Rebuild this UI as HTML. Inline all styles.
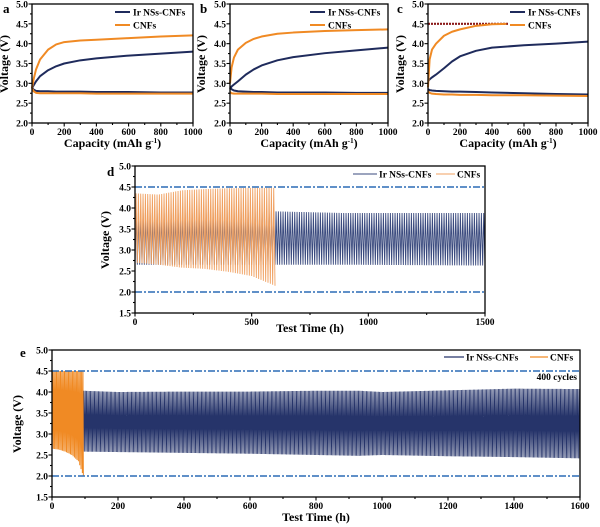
<!DOCTYPE html>
<html><head><meta charset="utf-8">
<style>
html,body{margin:0;padding:0;background:#fff;}
svg{display:block;font-family:"Liberation Serif",serif;font-weight:bold;}
</style></head>
<body>
<svg id="fig" width="600" height="527" viewBox="0 0 600 527" xmlns="http://www.w3.org/2000/svg"></svg>
<script>
// ---------- Data: panels a-c (capacity vs voltage) ----------
const capacity = [0,10,25,50,100,150,200,300,400,600,800,1000];
const a_ir_charge = [2.88,2.95,3.05,3.18,3.33,3.43,3.5,3.58,3.63,3.7,3.75,3.8];
const a_cnf_charge = [2.88,3.1,3.35,3.6,3.85,3.98,4.04,4.08,4.1,4.14,4.18,4.21];
const a_ir_discharge = [2.9,2.84,2.81,2.8,2.8,2.79,2.79,2.79,2.78,2.78,2.77,2.77];
const a_cnf_discharge = [2.88,2.8,2.76,2.75,2.75,2.75,2.75,2.75,2.74,2.74,2.74,2.74];
const b_ir_charge = [2.85,2.92,2.97,3.05,3.22,3.35,3.45,3.58,3.66,3.76,3.83,3.9];
const b_cnf_charge = [3.0,3.4,3.65,3.85,4.02,4.12,4.18,4.25,4.28,4.32,4.34,4.36];
const b_ir_discharge = [2.9,2.85,2.82,2.8,2.79,2.78,2.78,2.77,2.77,2.77,2.76,2.76];
const b_cnf_discharge = [2.78,2.75,2.74,2.74,2.74,2.74,2.74,2.73,2.73,2.73,2.73,2.73];
const c_ir_charge = [3.05,3.1,3.15,3.22,3.38,3.55,3.68,3.82,3.9,3.96,4.0,4.05];
const c_cnf_capacity = [0,10,25,50,100,150,200,300,400,490];
const c_cnf_charge = [2.9,3.6,3.85,4.0,4.2,4.3,4.36,4.45,4.49,4.5];
const c_ir_discharge = [2.85,2.83,2.82,2.81,2.8,2.79,2.79,2.78,2.77,2.75,2.73,2.72];
const c_cnf_discharge = [2.8,2.76,2.74,2.73,2.72,2.72,2.71,2.71,2.7,2.7,2.69,2.68];
const c_cutoff = [4.5];
const c_cutoff_range = [0,500];
// ---------- Data: panel d (cycling envelopes) ----------
const d_cnf_time = [0,100,200,300,400,500,600];
const d_cnf_upper = [4.35,4.32,4.42,4.45,4.47,4.48,4.48];
const d_cnf_lower = [2.7,2.65,2.58,2.55,2.48,2.38,2.15];
const d_ir_time = [0,300,600,900,1200,1500];
const d_ir_upper = [3.88,3.9,3.92,3.88,3.88,3.88];
const d_ir_lower = [2.65,2.65,2.65,2.65,2.64,2.63];
const d_period = [10];
const d_limits = [4.5,2.0];
// ---------- Data: panel e ----------
const e_cnf_time = [0,20,40,60,80,95];
const e_cnf_upper = [4.5,4.5,4.5,4.5,4.5,4.5];
const e_cnf_lower = [2.65,2.63,2.58,2.5,2.35,2.0];
const e_ir_time = [95,200,400,600,800,930,1000,1200,1400,1600];
const e_ir_upper = [4.03,4.0,4.01,4.01,4.03,4.03,4.0,4.04,4.08,4.07];
const e_ir_lower = [2.58,2.57,2.55,2.53,2.5,2.48,2.5,2.47,2.45,2.42];
const e_period = [4];
const e_limits = [4.5,2.0];

const NS="http://www.w3.org/2000/svg";
const svg=document.getElementById('fig');
const NAVY="#1f2b5c", ORANGE="#f08a24", BLUE="#2c6cb5";
function mk(tag,attrs,parent){const e=document.createElementNS(NS,tag);for(const k in attrs)e.setAttribute(k,attrs[k]);(parent||svg).appendChild(e);return e;}
function txt(s,x,y,size,anchor,parent){const t=mk('text',{x:x,y:y,'font-size':size,'text-anchor':anchor||'middle',fill:'#000'},parent);t.textContent=s;return t;}

function axes(name,o){
  const g=mk('g',{});
  
  
  const sx=v=>o.x0+(v-o.xmin)/(o.xmax-o.xmin)*(o.x1-o.x0);
  const sy=v=>o.y1-(v-o.ymin)/(o.ymax-o.ymin)*(o.y1-o.y0);
  o.g=g;o.sx=sx;o.sy=sy;return o;
}
function frame(o){
  const r=mk('rect',{x:o.x0,y:o.y0,width:o.x1-o.x0,height:o.y1-o.y0,fill:'none',stroke:'#000','stroke-width':1.3});
  
  
  for(let v=o.xmin;v<=o.xmax+1e-9;v+=o.xminor){
    const maj=Math.abs(Math.round(v/o.xmajor)*o.xmajor-v)<1e-6;
    mk('line',{x1:o.sx(v),x2:o.sx(v),y1:o.y1,y2:o.y1+(maj?3.5:2),stroke:'#000','stroke-width':1.1});
    if(maj){const t=txt(String(v),o.sx(v),o.y1+12,o.fs,'middle');
      
      }
  }
  for(let v=o.ymin;v<=o.ymax+1e-9;v+=o.yminor){
    const maj=Math.abs(Math.round(v/o.ymajor)*o.ymajor-v)<1e-6;
    mk('line',{x1:o.x0,x2:o.x0-(maj?3.5:2),y1:o.sy(v),y2:o.sy(v),stroke:'#000','stroke-width':1.1});
    if(maj){const t=txt(v.toFixed(1),o.x0-4,o.sy(v)+3.5,o.fs,'end');
      
      }
  }
}
function curve(o,xs,ys,color,w,name){
  const p=xs.map((x,i)=>o.sx(x).toFixed(2)+','+o.sy(ys[i]).toFixed(2)).join(' ');
  const l=mk('polyline',{points:p,fill:'none',stroke:color,'stroke-width':w,'stroke-linejoin':'round'});
  
  
  return l;
}
function lerp(xs,ys,x){for(let i=0;i<xs.length-1;i++){if(x<=xs[i+1]){const t=(x-xs[i])/(xs[i+1]-xs[i]);return ys[i]+t*(ys[i+1]-ys[i]);}}return ys[ys.length-1];}
function cycles(o,ts,up,lo,period,color,w,name){
  const pts=[];const t0=ts[0],t1=ts[ts.length-1];
  for(let t=t0;t<t1;t+=period){
    pts.push(o.sx(t).toFixed(2)+','+o.sy(lerp(ts,lo,t)).toFixed(2));
    const tm=Math.min(t+period*0.45,t1);
    pts.push(o.sx(tm).toFixed(2)+','+o.sy(lerp(ts,up,tm)).toFixed(2));
  }
  pts.push(o.sx(t1).toFixed(2)+','+o.sy(lo[lo.length-1]).toFixed(2));
  const l=mk('polyline',{points:pts.join(' '),fill:'none',stroke:color,'stroke-width':w,'stroke-linejoin':'miter'});
  
  
}
function hdash(o,v,name){
  const l=mk('line',{x1:o.x0,x2:o.x1,y1:o.sy(v),y2:o.sy(v),stroke:BLUE,'stroke-width':1.6,'stroke-dasharray':'7,2,2,2'});
  
  
}
function legendEntry(x1,x2,y,color,label,tx,fs,w,name){
  const g=mk('g',{});
  
  
  mk('line',{x1:x1,x2:x2,y1:y,y2:y,stroke:color,'stroke-width':w},g);
  txt(label,tx,y+3.5,fs,'start',g);
}

// ---------- Panels a-c ----------
const small=[
 {id:'a',x0:32,x1:193,lx:3,ir:a_ir_charge,cnf:a_cnf_charge,ird:a_ir_discharge,cnfd:a_cnf_discharge,ccap:capacity,ytx:8},
 {id:'b',x0:230,x1:388,lx:200,ir:b_ir_charge,cnf:b_cnf_charge,ird:b_ir_discharge,cnfd:b_cnf_discharge,ccap:capacity,ytx:205},
 {id:'c',x0:428,x1:588,lx:397,ir:c_ir_charge,cnf:c_cnf_charge,ird:c_ir_discharge,cnfd:c_cnf_discharge,ccap:c_cnf_capacity,ytx:404},
];
small.forEach(p=>{
  const o=axes('panel-'+p.id,{x0:p.x0,x1:p.x1,y0:4,y1:123,xmin:0,xmax:1000,ymin:2,ymax:5,xmajor:200,xminor:100,ymajor:0.5,yminor:0.25,fs:9.5});
  if(p.id==='c'){
    const r=mk('line',{x1:o.sx(c_cutoff_range[0]),x2:o.sx(c_cutoff_range[1]),y1:o.sy(c_cutoff[0]),y2:o.sy(c_cutoff[0]),stroke:'#8b1a1a','stroke-width':2.2,'stroke-dasharray':'2,1'});
    
    
  }
  curve(o,capacity,p.ird,NAVY,2,'ir-discharge-curve');
  curve(o,capacity,p.cnfd,ORANGE,2,'cnf-discharge-curve');
  curve(o,capacity,p.ir,NAVY,2,'ir-charge-curve');
  curve(o,p.ccap,p.cnf,ORANGE,2,'cnf-charge-curve');
  frame(o);
  const t=txt('Voltage (V)',0,0,12,'middle');
  t.setAttribute('transform','translate('+p.ytx+',64) rotate(-90)');
  
  
  const xt=mk('text',{x:(p.x0+p.x1)/2,y:147,'font-size':12,'text-anchor':'middle'});
  xt.innerHTML='Capacity (mAh g<tspan dy="-4" font-size="7">-1</tspan><tspan dy="4">)</tspan>';
  
  
  const lt=txt(p.id,p.lx,13,13,'start');
  
  
  const lx=p.x1-78;
  legendEntry(lx,lx+15,12,NAVY,'Ir NSs-CNFs',lx+18,9.5,2,'legend-ir');
  legendEntry(lx,lx+15,25,ORANGE,'CNFs',lx+18,9.5,2,'legend-cnf');
});

// ---------- Panel d ----------
(function(){
  const o=axes('panel-d',{x0:135,x1:485,y0:166,y1:313,xmin:0,xmax:1500,ymin:1.5,ymax:5,xmajor:500,xminor:250,ymajor:0.5,yminor:0.25,fs:9.5});
  cycles(o,d_ir_time,d_ir_upper,d_ir_lower,d_period[0],'#3a4a7e',0.9,'ir-cycling-trace');
  cycles(o,d_cnf_time,d_cnf_upper,d_cnf_lower,d_period[0],'#f0a060',0.9,'cnf-cycling-trace');
  hdash(o,d_limits[0],'upper-limit-line');hdash(o,d_limits[1],'lower-limit-line');
  frame(o);
  const t=txt('Voltage (V)',0,0,12,'middle');
  t.setAttribute('transform','translate(109,240) rotate(-90)');
  
  
  const xt=txt('Test Time (h)',310,332,12,'middle');
  
  
  const lt=txt('d',107,176,13,'start');
  
  
  legendEntry(353,377,174,'#3a4a7e','Ir NSs-CNFs',379,9.5,1,'legend-ir');
  legendEntry(436,455,174,'#f0a060','CNFs',457,9.5,1,'legend-cnf');
})();

// ---------- Panel e ----------
(function(){
  const o=axes('panel-e',{x0:52,x1:580,y0:350,y1:497,xmin:0,xmax:1600,ymin:1.5,ymax:5,xmajor:200,xminor:100,ymajor:0.5,yminor:0.25,fs:9.5});
  cycles(o,e_ir_time,e_ir_upper,e_ir_lower,e_period[0],'#26346a',0.8,'ir-cycling-trace');
  cycles(o,e_cnf_time,e_cnf_upper,e_cnf_lower,e_period[0],ORANGE,1,'cnf-cycling-trace');
  hdash(o,e_limits[0],'upper-limit-line');hdash(o,e_limits[1],'lower-limit-line');
  frame(o);
  const t=txt('Voltage (V)',0,0,12,'middle');
  t.setAttribute('transform','translate(21,424) rotate(-90)');
  
  
  const xt=txt('Test Time (h)',316,521,12,'middle');
  
  
  const lt=txt('e',20,357,13,'start');
  
  
  legendEntry(444,464,357,'#26346a','Ir NSs-CNFs',466,9.5,1.2,'legend-ir');
  legendEntry(530,548,357,ORANGE,'CNFs',550,9.5,1.2,'legend-cnf');
  const c=txt('400 cycles',577,380,9.5,'end');
  
  
})();
</script>
</body></html>
